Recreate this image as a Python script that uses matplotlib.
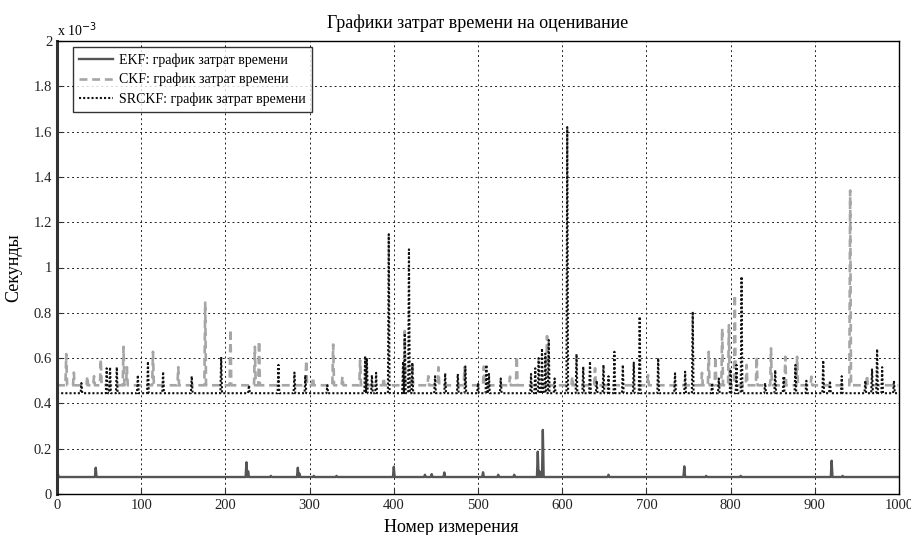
import numpy as np
import matplotlib
matplotlib.use("Agg")
import matplotlib.pyplot as plt
from matplotlib.ticker import FuncFormatter

# ---- data (values in units of 1e-3 s) ----
n_points = 1000
ekf_base = 0.075
ekf_spike_idx = [1, 46, 225, 227, 254, 286, 288, 305, 332, 400, 437, 445, 460, 506, 524, 543, 571, 573, 577, 655, 745, 771, 812, 920, 933]
ekf_spike_val = [0.09, 0.116, 0.14, 0.10, 0.08, 0.116, 0.09, 0.08, 0.08, 0.12, 0.085, 0.088, 0.095, 0.096, 0.085, 0.085, 0.187, 0.10, 0.283, 0.085, 0.122, 0.08, 0.08, 0.147, 0.08]

ckf_base = 0.48
ckf_spike_idx = [11, 20, 36, 44, 52, 79, 83, 114, 144, 176, 206, 235, 240, 296, 304, 328, 339, 360, 388, 413,
                 422, 441, 453, 484, 507, 538, 546, 582, 612, 639, 702, 766, 774, 782, 790, 798, 805, 819, 831,
                 848, 865, 879, 896, 942, 962]
ckf_spike_val = [0.618, 0.536, 0.52, 0.52, 0.595, 0.65, 0.56, 0.628, 0.56, 0.845, 0.727, 0.65, 0.675, 0.59, 0.515,
                 0.66, 0.518, 0.59, 0.513, 0.72, 0.58, 0.52, 0.56, 0.56, 0.563, 0.518, 0.608, 0.697, 0.518, 0.555,
                 0.525, 0.535, 0.628, 0.606, 0.731, 0.746, 0.879, 0.57, 0.606, 0.643, 0.606, 0.606, 0.518, 1.34, 0.525]

srckf_base = 0.445
srckf_spike_idx = [29, 59, 63, 71, 96, 108, 126, 160, 195, 228, 263, 282, 295, 321, 366, 368, 374, 379, 394, 411,
                   413, 418, 422, 449, 461, 476, 485, 500, 510, 513, 527, 563, 568, 572, 576, 580, 584, 591, 606,
                   617, 625, 633, 641, 649, 655, 662, 672, 685, 692, 714, 734, 746, 755, 778, 786, 800, 807, 813,
                   841, 853, 863, 877, 890, 910, 918, 932, 960, 968, 974, 980, 994]
srckf_spike_val = [0.49, 0.555, 0.56, 0.56, 0.525, 0.585, 0.54, 0.52, 0.605, 0.48, 0.57, 0.536, 0.525, 0.48, 0.609,
                   0.6, 0.525, 0.535, 1.147, 0.585, 0.709, 1.08, 0.58, 0.52, 0.533, 0.53, 0.563, 0.49, 0.57, 0.53,
                   0.51, 0.53, 0.555, 0.6, 0.643, 0.62, 0.68, 0.51, 1.62, 0.618, 0.562, 0.585, 0.5, 0.57, 0.52,
                   0.628, 0.57, 0.58, 0.783, 0.6, 0.533, 0.54, 0.805, 0.49, 0.51, 0.55, 0.57, 0.96, 0.49, 0.547,
                   0.52, 0.57, 0.5, 0.59, 0.5, 0.52, 0.5, 0.55, 0.64, 0.56, 0.5]

legend_labels = ["EKF: график затрат времени", "CKF: график затрат времени", "SRCKF: график затрат времени"]
title_text = "Графики затрат времени на оценивание"
xlabel_text = "Номер измерения"
ylabel_text = "Секунды"


def build(base, idx, val):
    y = np.full(n_points, base, dtype=float)
    y[np.array(idx)] = np.array(val)
    return y


x = np.arange(n_points)
ekf = build(ekf_base, ekf_spike_idx, ekf_spike_val)
ckf = build(ckf_base, ckf_spike_idx, ckf_spike_val)
srckf = build(srckf_base, srckf_spike_idx, srckf_spike_val)

plt.rcParams['font.family'] = ['Liberation Serif', 'DejaVu Serif']

fig = plt.figure(figsize=(9.12, 5.35), dpi=100)
ax = fig.add_axes([57 / 912, (535 - 494) / 535, (899 - 57) / 912, (494 - 41) / 535])

ax.plot(x, ekf, color='#555555', lw=1.7, ls='-', label=legend_labels[0])
ax.plot(x, ckf, color='#a6a6a6', lw=1.9, ls=(0, (3, 1.8)), label=legend_labels[1])
ax.plot(x, srckf, color='#111111', lw=1.5, ls=(0, (1, 1)), label=legend_labels[2])

ax.set_xlim(0, 1000)
ax.set_ylim(0, 2)
ax.set_xticks(np.arange(0, 1001, 100))
ax.set_yticks(np.arange(0, 2.01, 0.2))
ax.yaxis.set_major_formatter(FuncFormatter(lambda v, p: f"{v:g}"))
ax.grid(True, color='#222222', ls=(0, (2, 3)), lw=0.7)
ax.tick_params(direction='in', labelsize=10.5, length=4, colors='#333333', labelcolor='#222222')
for s in ax.spines.values():
    s.set_linewidth(1.0)
ax.spines['left'].set_linewidth(2.2)
ax.spines['left'].set_color('#333333')

ax.set_title(title_text, fontsize=13, pad=9)
ax.set_xlabel(xlabel_text, fontsize=13, labelpad=2)
ax.xaxis.set_label_coords((451 - 57) / 842, -0.055)
ax.set_ylabel(ylabel_text, fontsize=13, labelpad=8)
ax.text(0.0, 1.005, "x 10$^{-3}$", transform=ax.transAxes, fontsize=10, va='bottom', ha='left')

leg = ax.legend(loc='upper left', bbox_to_anchor=(0.019, 0.987), fontsize=10, frameon=True,
                fancybox=False, edgecolor='black', handlelength=2.4, handletextpad=0.45,
                borderpad=0.45, labelspacing=0.45, borderaxespad=0.0)
leg.get_frame().set_linewidth(1.0)

fig.savefig("out.png", dpi=100)
